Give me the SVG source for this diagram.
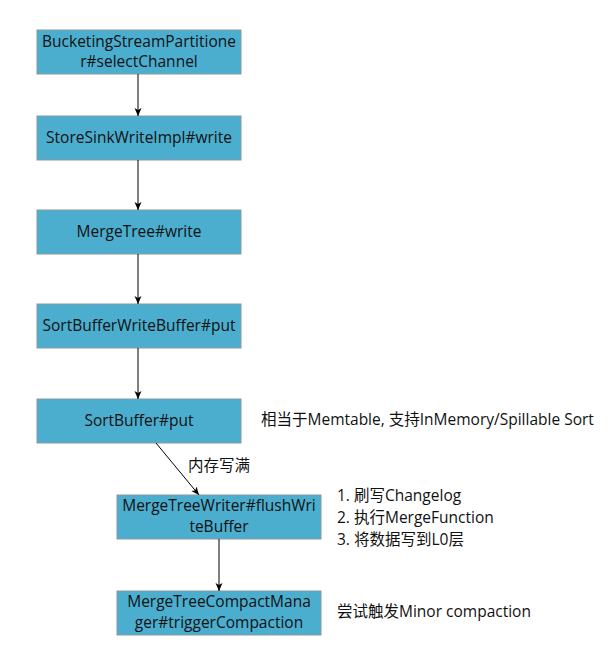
<svg xmlns="http://www.w3.org/2000/svg" width="608" height="656" viewBox="0 0 608 656">
<defs>
<marker id="arr" markerWidth="8" markerHeight="8" refX="8" refY="4" orient="auto" markerUnits="userSpaceOnUse">
<path d="M0,0.5 L8,4 L0,7.5 L2,4 Z" fill="#000"/>
</marker>
<style>
.box{fill:#4BAECF;stroke:#8a9aa0;stroke-width:1}
.t{font-family:"Open Sans","Noto Sans CJK SC",sans-serif;font-size:15.5px;fill:#111}
.c{text-anchor:middle}
.e{stroke:#000;stroke-width:1;fill:none;marker-end:url(#arr)}
</style>
</defs>
<rect width="608" height="656" fill="#fff"/>
<g id="n1"><rect class="box" x="37" y="30" width="204" height="44"/><text class="t c" x="139" y="47">BucketingStreamPartitione</text><text class="t c" x="139" y="67">r#selectChannel</text></g>
<g id="n2"><rect class="box" x="37" y="116" width="204" height="44"/><text class="t c" x="139" y="143">StoreSinkWriteImpl#write</text></g>
<g id="n3"><rect class="box" x="37" y="210" width="204" height="44"/><text class="t c" x="139" y="237">MergeTree#write</text></g>
<g id="n4"><rect class="box" x="37" y="304" width="204" height="44"/><text class="t c" x="139" y="331">SortBufferWriteBuffer#put</text></g>
<g id="n5"><rect class="box" x="37" y="399" width="204" height="44"/><text class="t c" x="139" y="426">SortBuffer#put</text></g>
<g id="n6"><rect class="box" x="117" y="495" width="204" height="44"/><text class="t c" x="219" y="511">MergeTreeWriter#flushWri</text><text class="t c" x="219" y="532">teBuffer</text></g>
<g id="n7"><rect class="box" x="117" y="591" width="204" height="44"/><text class="t c" x="219" y="607">MergeTreeCompactMana</text><text class="t c" x="219" y="628">ger#triggerCompaction</text></g>
<g id="edges">
<line class="e" x1="138" y1="74" x2="138" y2="116"/>
<line class="e" x1="138" y1="160" x2="138" y2="210"/>
<line class="e" x1="138" y1="254" x2="138" y2="304"/>
<line class="e" x1="138" y1="348" x2="138" y2="399"/>
<line class="e" x1="156" y1="443" x2="199" y2="495"/>
<line class="e" x1="219" y1="539" x2="219" y2="591"/>
<text class="t" x="188" y="471">内存写满</text>
</g>
<g id="notes">
<text class="t" x="261" y="425">相当于Memtable, 支持InMemory/Spillable Sort</text>
<text class="t" x="337" y="501">1. 刷写Changelog</text>
<text class="t" x="337" y="523">2. 执行MergeFunction</text>
<text class="t" x="337" y="545">3. 将数据写到L0层</text>
<text class="t" x="337" y="617">尝试触发Minor compaction</text>
</g>
</svg>
